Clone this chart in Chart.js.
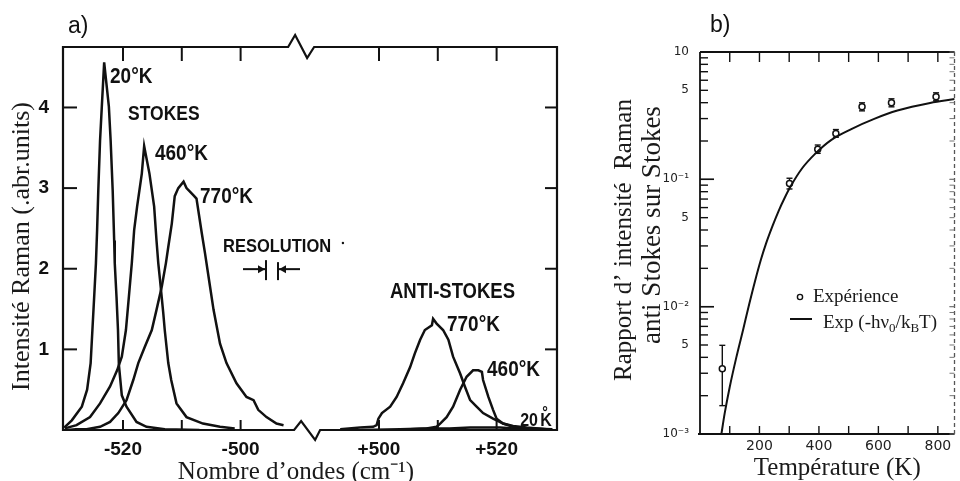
<!DOCTYPE html>
<html><head><meta charset="utf-8">
<script src="https://cdn.jsdelivr.net/npm/chart.js@4.4.1/dist/chart.umd.min.js"></script>
<style>
html,body{margin:0;padding:0;background:#fff;width:960px;height:481px;overflow:hidden;}
#wa{position:absolute;left:0;top:0;width:580px;height:481px;}
#wb{position:absolute;left:580px;top:0;width:380px;height:481px;}
</style></head><body>
<div id="wa"><canvas id="ca" width="580" height="481"></canvas></div>
<div id="wb"><canvas id="cb" width="380" height="481"></canvas></div>
<script>
// ---------- Panel a) data: [wavenumber (cm-1), intensity (arb. units)] ----------
const stokes20K = [[-530,0.03],[-528.7,0.12],[-527,0.29],[-526.1,0.5],[-525.5,0.83],[-525.2,1.24],[-524.9,1.65],[-524.6,2.07],[-524.4,2.48],[-524.2,2.97],[-523.9,3.59],[-523.6,4.01],[-523.2,4.56],[-522.4,4.01],[-522.1,3.59],[-521.75,2.97],[-521.5,2.35],[-521.4,2.07],[-521.1,1.65],[-520.85,1.24],[-520.7,0.81],[-520.2,0.43],[-519.4,0.29],[-517.7,0.10],[-516.0,0.04],[-512.9,0.01],[-507,0.0]];
const stokes460K = [[-529.9,0.02],[-527.9,0.06],[-525.6,0.16],[-523.9,0.33],[-522.2,0.54],[-521.0,0.74],[-520.2,0.91],[-519.5,1.24],[-519.0,1.65],[-518.5,2.07],[-518.1,2.48],[-517.6,2.77],[-516.8,3.18],[-516.4,3.52],[-515.5,3.18],[-514.7,2.77],[-514.3,2.35],[-514.0,2.07],[-513.7,1.86],[-513.15,1.45],[-512.9,1.24],[-512.3,0.83],[-511.8,0.62],[-510.9,0.33],[-509.2,0.16],[-506.4,0.08],[-503.5,0.04],[-501.0,0.02]];
const stokes770K = [[-529.5,0.0],[-528,0.01],[-526.2,0.01],[-523.9,0.04],[-522.2,0.10],[-520.8,0.21],[-519.4,0.37],[-518.25,0.62],[-517.4,0.83],[-516.3,1.03],[-515.1,1.24],[-514.3,1.49],[-513.4,1.78],[-512.7,2.07],[-512.3,2.27],[-511.7,2.56],[-511.2,2.90],[-510.6,3.0],[-509.7,3.08],[-509.2,3.0],[-508.0,2.91],[-507.5,2.87],[-506.6,2.44],[-506.05,2.19],[-505.2,1.78],[-504.6,1.49],[-503.5,1.07],[-502.4,0.83],[-500.7,0.58],[-499.0,0.41],[-497.8,0.37],[-497.0,0.25],[-495.6,0.16],[-493.9,0.08],[-492.7,0.06]];
const antiStokes770K = [[493.4,0.01],[496.8,0.03],[499.0,0.04],[499.6,0.06],[499.9,0.14],[500.5,0.21],[501.9,0.29],[503.0,0.41],[504.1,0.58],[505.3,0.78],[506.1,0.95],[507.0,1.12],[507.8,1.24],[509.0,1.30],[509.2,1.38],[509.8,1.32],[510.9,1.24],[511.8,1.12],[512.6,0.91],[513.8,0.70],[514.6,0.54],[515.5,0.37],[516.6,0.29],[517.7,0.21],[519.4,0.14],[521.1,0.08],[522.8,0.05],[525.1,0.03],[528.5,0.01]];
const antiStokes460K = [[505.3,0.01],[508.1,0.02],[509.8,0.04],[510.4,0.08],[511.5,0.16],[512.6,0.29],[513.8,0.50],[514.9,0.66],[516.0,0.74],[516.9,0.74],[517.5,0.72],[517.7,0.62],[518.6,0.41],[519.4,0.25],[520.0,0.14],[521.1,0.08],[522.8,0.04],[525.1,0.02],[528.2,0.01]];
const antiStokes20K = [[497,0.0],[503.6,0.01],[508,0.02],[512,0.02],[515.5,0.03],[518,0.03],[520.6,0.03],[523,0.02],[525.7,0.02],[529.5,0.01]];
const seriesNamesA = ['Stokes 20°K','Stokes 460°K','Stokes 770°K','Anti-Stokes 770°K','Anti-Stokes 460°K','Anti-Stokes 20°K'];
const xTicksA = [-520,-510,-500,500,510,520];
const xTickLabelsA = ['-520','','-500','+500','','+520'];
const yTicksA = [1,2,3,4];
const yTickLabelsA = ['1','2','3','4'];

// ---------- Panel b) data ----------
const expT = [75, 301, 396, 457, 545, 644, 794];
const expRatio = [0.00326, 0.0927, 0.1726, 0.2295, 0.371, 0.399, 0.445];
const expLow = [0.00167, 0.084, 0.160, 0.214, 0.345, 0.371, 0.414];
const expHigh = [0.00497, 0.102, 0.186, 0.246, 0.399, 0.429, 0.478];
const fitT = [72, 83, 100, 122, 145, 165, 185, 205, 222, 245, 265, 285, 304, 343, 387, 442, 509, 586, 664, 774, 857];
const fitRatio = [0.0010, 0.00145, 0.00234, 0.00398, 0.0066, 0.01035, 0.01585, 0.02344, 0.03126, 0.04365, 0.05689, 0.07161, 0.0873, 0.1216, 0.1585, 0.2042, 0.2483, 0.2985, 0.3467, 0.3981, 0.4266];
const xTicksB = [200, 400, 600, 800];
const xMinorB = [100, 200, 300, 400, 500, 600, 700, 800];
const yTicksB = [0.001, 0.005, 0.01, 0.05, 0.1, 0.5, 1];
const yTickLabelsB = ['10\u207B\u00B3','5','10\u207B\u00B2','5','10\u207B\u00B9','5','10'];

// broken wavenumber axis -> continuous drawing coordinate
const toV = w => (w < 0 ? w + 530.2 : w - 446.27);
const axisBreakV = 39.3;

Chart.defaults.font.family = '"Liberation Sans", Arial, sans-serif';

function line(ctx, x1, y1, x2, y2){ ctx.beginPath(); ctx.moveTo(x1,y1); ctx.lineTo(x2,y2); ctx.stroke(); }
function lettering(ctx, str, x, y, size){
  ctx.save(); ctx.translate(x, y); ctx.scale(1, 1.15);
  ctx.font = 'bold ' + size + 'px "Liberation Sans", Arial, sans-serif';
  ctx.textAlign = 'left'; ctx.textBaseline = 'alphabetic'; ctx.fillStyle = '#111';
  ctx.fillText(str, 0, 0); ctx.restore();
}

const annotA = [
  {t:'20°K', w:-522.2, i:4.30, s:19},
  {t:'STOKES', w:-519.15, i:3.84, s:17.5},
  {t:'460°K', w:-514.56, i:3.35, s:19},
  {t:'770°K', w:-506.9, i:2.81, s:19},
  {t:'RESOLUTION', w:-503.0, i:2.21, s:16.5},
  {t:'ANTI-STOKES', w:501.87, i:1.636, s:18.5},
  {t:'770°K', w:511.56, i:1.227, s:19},
  {t:'460°K', w:518.37, i:0.669, s:19}
];

const decorA = {
  id:'decorA',
  afterDraw(chart){
    const {ctx, chartArea:{left,right,top,bottom}, scales:{x,y}} = chart;
    ctx.save();
    ctx.strokeStyle = '#111'; ctx.lineWidth = 2.2; ctx.lineJoin = 'miter';
    const bx = x.getPixelForValue(axisBreakV);
    ctx.beginPath();
    ctx.moveTo(left, top); ctx.lineTo(left, bottom); ctx.lineTo(bx, bottom);
    ctx.lineTo(bx+7, bottom-9); ctx.lineTo(bx+21, bottom+10); ctx.lineTo(bx+26, bottom);
    ctx.lineTo(right, bottom); ctx.lineTo(right, top);
    ctx.lineTo(bx+20, top); ctx.lineTo(bx+13, top+11); ctx.lineTo(bx+1, top-12); ctx.lineTo(bx-6, top);
    ctx.closePath(); ctx.stroke();
    // inward ticks
    ctx.lineWidth = 2;
    yTicksA.forEach(v => { const py = y.getPixelForValue(v); line(ctx, left, py, left+14, py); line(ctx, right, py, right-12, py); });
    xTicksA.forEach(w => { const px = x.getPixelForValue(toV(w)); line(ctx, px, top, px, top+14); line(ctx, px, bottom, px, bottom-10); });
    // annotations
    annotA.forEach(a => lettering(ctx, a.t, x.getPixelForValue(toV(a.w)), y.getPixelForValue(a.i), a.s));
    // small 20K anti-Stokes label
    const ax = x.getPixelForValue(toV(524.0)), ay = y.getPixelForValue(0.05);
    lettering(ctx, '20', ax, ay, 16);
    lettering(ctx, 'K', ax+20, ay, 16);
    lettering(ctx, '°', ax+22, ay-8, 14);
    // resolution marker
    const rx = x.getPixelForValue(toV(-494.66)), ry = y.getPixelForValue(1.995);
    ctx.lineWidth = 2;
    line(ctx, rx-29, ry, rx-7, ry); line(ctx, rx-6, ry-9, rx-6, ry+11);
    line(ctx, rx+6, ry-7, rx+6, ry+11); line(ctx, rx+7, ry, rx+28, ry);
    ctx.fillStyle = '#111';
    ctx.beginPath(); ctx.moveTo(rx-7, ry); ctx.lineTo(rx-14, ry-4); ctx.lineTo(rx-14, ry+4); ctx.closePath(); ctx.fill();
    ctx.beginPath(); ctx.moveTo(rx+7, ry); ctx.lineTo(rx+14, ry-4); ctx.lineTo(rx+14, ry+4); ctx.closePath(); ctx.fill();
    ctx.beginPath(); ctx.arc(x.getPixelForValue(toV(-482.6)), y.getPixelForValue(2.32), 1.2, 0, Math.PI*2); ctx.fill();
    // panel letter
    ctx.font = '23px "Liberation Sans", Arial, sans-serif'; ctx.fillStyle = '#111'; ctx.textAlign='left'; ctx.textBaseline='alphabetic';
    ctx.fillText('a)', left+5, top-14);
    // axis titles
    ctx.font = '25px "Liberation Serif", "Times New Roman", serif'; ctx.fillStyle = '#1a1a1a';
    ctx.textAlign = 'center';
    ctx.fillText('Nombre d\u2019ondes (cm\u207B\u00B9)', left + 233, bottom + 49);
    ctx.save(); ctx.translate(left - 41, (top+bottom)/2 + 8); ctx.rotate(-Math.PI/2);
    ctx.font = '26px "Liberation Serif", "Times New Roman", serif'; ctx.textBaseline = 'middle';
    ctx.fillText('Intensité Raman (.abr.units)', 0, 0); ctx.restore();
    ctx.restore();
  }
};

new Chart(document.getElementById('ca'), {
  type: 'scatter',
  data: { datasets: [stokes20K, stokes460K, stokes770K, antiStokes770K, antiStokes460K, antiStokes20K].map((s, k) => ({
    label: seriesNamesA[k], data: s.map(p => ({x: toV(p[0]), y: p[1]})),
    showLine: true, pointRadius: 0, borderColor: '#111', borderWidth: 2.5, tension: 0, fill: false
  })) },
  options: {
    responsive: false, animation: false, devicePixelRatio: 1,
    layout: { padding: { left: 0, top: 47, right: 23, bottom: 0 } },
    plugins: { legend: { display: false }, tooltip: { enabled: false } },
    scales: {
      x: { type: 'linear', min: 0, max: 84,
        grid: { display: false, drawTicks: false }, border: { display: false },
        afterBuildTicks: s => { s.ticks = xTicksA.map(w => ({ value: toV(w) })); },
        ticks: { autoSkip: false, maxRotation: 0, padding: 8, color: '#111',
          font: { size: 19, weight: 'bold' }, callback: (v, i) => xTickLabelsA[i] },
        afterFit: s => { s.height = 51; } },
      y: { type: 'linear', min: 0, max: 4.75,
        grid: { display: false, drawTicks: false }, border: { display: false },
        afterBuildTicks: s => { s.ticks = yTicksA.map(v => ({ value: v })); },
        ticks: { autoSkip: false, padding: 14, color: '#111',
          font: { size: 19, weight: 'bold' }, callback: (v, i) => yTickLabelsA[i] },
        afterFit: s => { s.width = 63; } }
    }
  },
  plugins: [decorA]
});

const decorB = {
  id: 'decorB',
  beforeDatasetsDraw(chart){
    const {ctx, scales:{x,y}} = chart;
    ctx.save(); ctx.strokeStyle = '#111'; ctx.lineWidth = 1.4;
    expT.forEach((t, i) => {
      const px = x.getPixelForValue(t), y1 = y.getPixelForValue(expLow[i]), y2 = y.getPixelForValue(expHigh[i]);
      line(ctx, px, y1, px, y2); line(ctx, px-3, y1, px+3, y1); line(ctx, px-3, y2, px+3, y2);
    });
    ctx.restore();
  },
  afterDraw(chart){
    const {ctx, chartArea:{left,right,top,bottom}, scales:{x,y}} = chart;
    ctx.save(); ctx.strokeStyle = '#111'; ctx.lineWidth = 1.8;
    line(ctx, left, top, left, bottom); line(ctx, left-2, bottom, right, bottom); line(ctx, left, top, right, top);
    ctx.save(); ctx.setLineDash([4,3]); ctx.lineWidth = 1.3; ctx.strokeStyle = '#555'; line(ctx, right, top, right, bottom); ctx.restore();
    ctx.lineWidth = 1.4;
    xMinorB.forEach(t => { const px = x.getPixelForValue(t); line(ctx, px, bottom, px, bottom-8); line(ctx, px, top, px, top+10); });
    for (let e = -3; e < 0; e++) {
      for (let m = 1; m <= 10; m++) {
        const py = y.getPixelForValue(m * Math.pow(10, e));
        const len = (m === 1 || m === 10) ? 14 : 8;
        line(ctx, left, py, left+len, py);
        ctx.save(); ctx.strokeStyle = '#777'; ctx.lineWidth = 1; line(ctx, right, py, right-5, py); ctx.restore();
      }
    }
    // legend
    const lx = left + 100;
    ctx.beginPath(); ctx.arc(lx, top + 245, 2.6, 0, Math.PI*2); ctx.fillStyle = '#fff'; ctx.fill(); ctx.lineWidth = 1.4; ctx.stroke();
    ctx.lineWidth = 2; line(ctx, lx-10, top + 267, lx+12, top + 267);
    ctx.fillStyle = '#1a1a1a'; ctx.textAlign = 'left'; ctx.textBaseline = 'alphabetic';
    const serif = '"Liberation Serif", "Times New Roman", serif';
    ctx.font = '19px ' + serif;
    ctx.fillText('Expérience', lx+13, top + 250);
    let cx = lx + 23; const by = top + 276;
    const part = (s, size, dy) => { ctx.font = size + 'px ' + serif; ctx.fillText(s, cx, by + dy); cx += ctx.measureText(s).width; };
    part('Exp (-h\u03BD', 19, 0); part('0', 13, 4); part('/k', 19, 0); part('B', 13, 4); part('T)', 19, 0);
    // panel letter
    ctx.font = '23px "Liberation Sans", Arial, sans-serif'; ctx.fillStyle = '#111';
    ctx.fillText('b)', left + 10, top - 20);
    // titles
    ctx.fillStyle = '#1a1a1a'; ctx.textAlign = 'center';
    ctx.font = '25px ' + serif;
    ctx.fillText('Température (K)', (left+right)/2 + 10, bottom + 41);
    ctx.save(); ctx.translate(left - 76, 240); ctx.rotate(-Math.PI/2); ctx.textBaseline = 'middle';
    ctx.fillText('Rapport d\u2019 intensité  Raman', 0, 0); ctx.restore();
    ctx.save(); ctx.translate(left - 47, 225); ctx.rotate(-Math.PI/2); ctx.textBaseline = 'middle';
    ctx.font = '27px ' + serif;
    ctx.fillText('anti Stokes sur Stokes', 0, 0); ctx.restore();
    ctx.restore();
  }
};

new Chart(document.getElementById('cb'), {
  type: 'scatter',
  data: { datasets: [
    { label: 'Exp (-h\u03BD0/kBT)', data: fitT.map((t, i) => ({x: t, y: fitRatio[i]})), showLine: true, pointRadius: 0,
      borderColor: '#111', borderWidth: 2, cubicInterpolationMode: 'monotone', fill: false },
    { label: 'Expérience', data: expT.map((t, i) => ({x: t, y: expRatio[i]})), showLine: false, pointRadius: 3,
      pointBorderWidth: 1.5, pointBackgroundColor: '#fff', pointBorderColor: '#111' }
  ] },
  options: {
    responsive: false, animation: false, devicePixelRatio: 1,
    layout: { padding: { left: 0, top: 52, right: 2, bottom: 0 } },
    plugins: { legend: { display: false }, tooltip: { enabled: false } },
    scales: {
      x: { type: 'linear', min: 0, max: 856,
        grid: { display: false, drawTicks: false }, border: { display: false },
        afterBuildTicks: s => { s.ticks = xTicksB.map(v => ({ value: v })); },
        ticks: { autoSkip: false, maxRotation: 0, padding: 4, color: '#222',
          font: { family: '"DejaVu Sans", sans-serif', size: 14 }, callback: v => String(v) },
        afterFit: s => { s.height = 47; } },
      y: { type: 'logarithmic', min: 0.001, max: 1,
        grid: { display: false, drawTicks: false }, border: { display: false },
        afterBuildTicks: s => { s.ticks = yTicksB.map(v => ({ value: v })); },
        ticks: { autoSkip: false, padding: 11, color: '#222',
          font: { family: '"DejaVu Sans", sans-serif', size: 12 }, callback: (v, i) => yTickLabelsB[i] },
        afterFit: s => { s.width = 120; } }
    }
  },
  plugins: [decorB]
});
</script>
</body></html>
